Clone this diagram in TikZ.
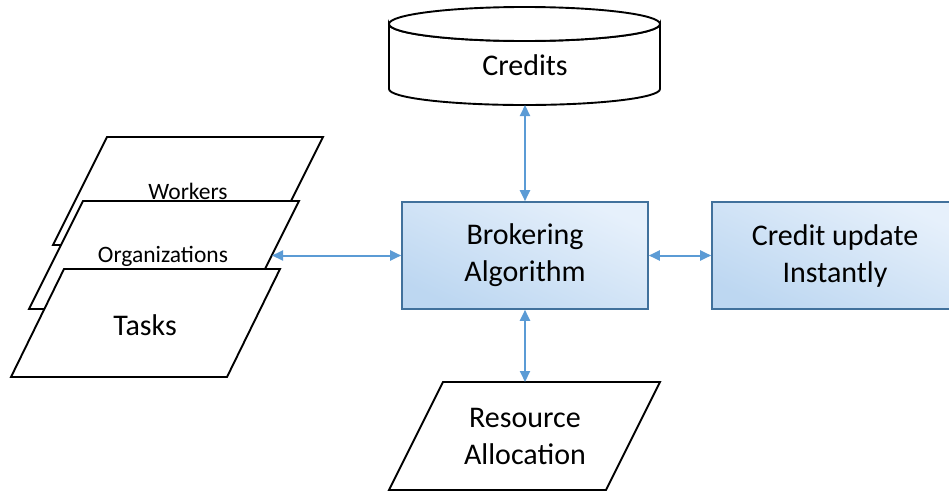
\documentclass[tikz,border=0pt]{standalone}
\usepackage{fontspec}
\setmainfont{Carlito}
\usetikzlibrary{arrows.meta}
\definecolor{linkblue}{HTML}{5B9BD5}
\definecolor{boxedge}{HTML}{41719C}
\definecolor{boxlight}{HTML}{E6F0FB}
\definecolor{boxdark}{HTML}{BDD7F1}
\begin{document}
\begin{tikzpicture}[x=1pt,y=-1pt,
  outline/.style={draw=black,line width=1.9pt,fill=white,line join=miter},
  bigtxt/.style={inner sep=0pt,align=center,font=\fontsize{30}{37}\selectfont},
  smalltxt/.style={inner sep=0pt,align=center,font=\fontsize{23.5}{27}\selectfont},
  procbox/.style={draw=boxedge,line width=1.6pt,minimum width=246pt,minimum height=107pt,
    inner sep=0pt,align=center,font=\fontsize{30}{37}\selectfont,
    top color=boxlight,bottom color=boxdark,shading angle=-25},
  link/.style={draw=linkblue,line width=2pt,
    {Triangle[length=11pt,width=10pt]}-{Triangle[length=11pt,width=10pt]}}
]
\useasboundingbox (0,0) rectangle (949,490);

% Credits store (cylinder)
\path[outline] (389,24) -- (389,89) arc[start angle=180,end angle=0,x radius=135.5,y radius=16]
  -- (660,24) arc[start angle=0,end angle=180,x radius=135.5,y radius=17] -- cycle;
\draw[outline] (524.5,24) ellipse[x radius=135.5,y radius=17];
\node[bigtxt] (credits) at (525,65) {Credits};
\coordinate (credB) at (525,105);

% Stack of input documents
\path[outline] (107,137) -- (323,137) -- (269,245) -- (53,245) -- cycle;
\node[smalltxt] (workers) at (188,191) {Workers};
\path[outline] (83,201) -- (299,201) -- (245,309) -- (29,309) -- cycle;
\node[smalltxt] (orgs) at (163,256) {Organizations};
\coordinate (orgR) at (272,255.5);
\path[outline] (64,269) -- (280,269) -- (227,377) -- (11,377) -- cycle;
\node[bigtxt] (tasks) at (145,325) {Tasks};

% Processing boxes
\node[procbox] (broker) at (525,255.5) {Brokering\\Algorithm};
\node[procbox] (update) at (835,255.5) {Credit update\\Instantly};

% Output document
\path[outline] (443,382) -- (660,382) -- (606,490) -- (389,490) -- cycle;
\node[bigtxt] (alloc) at (525,436.5) {Resource\\Allocation};
\coordinate (allocT) at (525,382);

% Connectors
\draw[link] (credB) -- (broker.north);
\draw[link] (orgR) -- (broker.west);
\draw[link] (broker.east) -- (update.west);
\draw[link] (broker.south) -- (allocT);
\end{tikzpicture}
\end{document}
